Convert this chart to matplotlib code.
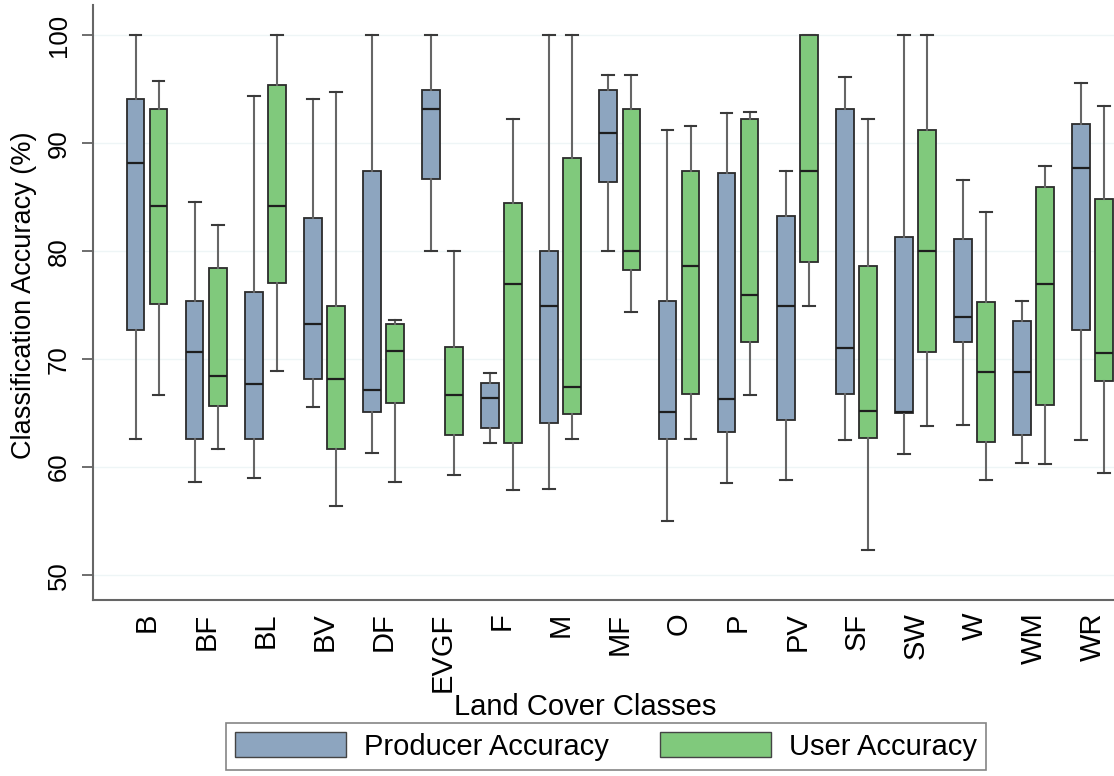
import numpy as np
import matplotlib
matplotlib.use("Agg")
import matplotlib.pyplot as plt
from matplotlib.patches import Patch

plt.rcParams['font.family'] = ['Liberation Sans', 'DejaVu Sans']

# Класи та статистики боксплотів
classes = ["B", "BF", "BL", "BV", "DF", "EVGF", "F", "M", "MF", "O", "P", "PV", "SF", "SW", "W", "WM", "WR"]

prod_lo = [62.6, 58.6, 59.0, 65.6, 61.3, 80.0, 62.2, 58.0, 80.0, 55.0, 58.5, 58.8, 62.5, 61.2, 63.9, 60.4, 62.5]
prod_q1 = [72.7, 62.6, 62.6, 68.2, 65.1, 86.7, 63.6, 64.1, 86.4, 62.6, 63.3, 64.4, 66.8, 65.0, 71.6, 63.0, 72.7]
prod_med = [88.2, 70.7, 67.7, 73.3, 67.1, 93.2, 66.4, 74.9, 90.9, 65.1, 66.3, 74.9, 71.0, 65.1, 73.9, 68.8, 87.7]
prod_q3 = [94.1, 75.4, 76.2, 83.1, 87.4, 94.9, 67.8, 80.0, 94.9, 75.4, 87.2, 83.3, 93.2, 81.3, 81.1, 73.5, 91.8]
prod_hi = [100.0, 84.6, 94.4, 94.1, 100.0, 100.0, 68.7, 100.0, 96.3, 91.2, 92.8, 87.4, 96.1, 100.0, 86.6, 75.4, 95.6]

user_lo = [66.7, 61.7, 68.9, 56.4, 58.6, 59.3, 57.9, 62.6, 74.4, 62.6, 66.7, 74.9, 52.3, 63.8, 58.8, 60.3, 59.5]
user_q1 = [75.1, 65.7, 77.1, 61.7, 65.9, 63.0, 62.2, 64.9, 78.3, 66.8, 71.6, 79.0, 62.7, 70.7, 62.3, 65.8, 68.0]
user_med = [84.2, 68.4, 84.2, 68.2, 70.8, 66.7, 77.0, 67.4, 80.0, 78.6, 75.9, 87.4, 65.2, 80.0, 68.8, 77.0, 70.6]
user_q3 = [93.2, 78.4, 95.4, 74.9, 73.3, 71.1, 84.5, 88.6, 93.2, 87.4, 92.2, 100.0, 78.6, 91.2, 75.3, 85.9, 84.8]
user_hi = [95.8, 82.4, 100.0, 94.7, 73.6, 80.0, 92.2, 100.0, 96.3, 91.6, 92.9, 100.0, 92.2, 100.0, 83.6, 87.9, 93.4]

yticks = [50, 60, 70, 80, 90, 100]

prod_color = "#8DA5BF"
user_color = "#80C97C"


def make_stats(lo, q1, med, q3, hi):
    return [dict(whislo=a, q1=b, med=c, q3=d, whishi=e, fliers=[])
            for a, b, c, d, e in zip(lo, q1, med, q3, hi)]


fig = plt.figure(figsize=(11.14, 7.76), dpi=100)
ax = fig.add_axes([0.0835, 0.2268, 0.9165, 0.7668])

x = np.arange(len(classes))
off = 0.195

for stats, pos, col in [
    (make_stats(prod_lo, prod_q1, prod_med, prod_q3, prod_hi), x - off, prod_color),
    (make_stats(user_lo, user_q1, user_med, user_q3, user_hi), x + off, user_color),
]:
    ax.bxp(stats, positions=pos, widths=0.30, capwidths=0.2, patch_artist=True,
           showfliers=False, manage_ticks=False,
           boxprops=dict(facecolor=col, edgecolor="#2b2b2b", linewidth=1.3),
           medianprops=dict(color="#1e1e1e", linewidth=1.6),
           whiskerprops=dict(color="#666666", linewidth=1.5),
           capprops=dict(color="#3a3a3a", linewidth=1.5), zorder=3)

ax.set_xlim(-0.914, 16.36)
ax.set_ylim(47.7, 102.8)

for t in yticks:
    ax.axhline(t, color="#EEF5F6", linewidth=1.0, zorder=0)

ax.set_yticks(yticks)
ax.set_yticklabels([str(t) for t in yticks], rotation=90, va="center", fontsize=18.5)
ax.tick_params(axis="y", length=8, width=1.2, color="#555555", pad=8)

ax.set_xticks(x)
ax.set_xticklabels(classes, rotation=90, fontsize=21)
ax.tick_params(axis="x", length=0, pad=9)

for s in ["top", "right"]:
    ax.spines[s].set_visible(False)
for s in ["left", "bottom"]:
    ax.spines[s].set_color("#666666")
    ax.spines[s].set_linewidth(1.5)

fig.text(24 / 1114, 1 - 295 / 776, "Classification Accuracy (%)", rotation=90,
         ha="center", va="center", fontsize=19.5)
fig.text(585 / 1114, 1 - 707 / 776, "Land Cover Classes", ha="center", va="center", fontsize=21)

handles = [Patch(facecolor=prod_color, edgecolor="#444444", label="Producer Accuracy"),
           Patch(facecolor=user_color, edgecolor="#444444", label="User Accuracy")]
leg = fig.legend(handles=handles, loc="center", bbox_to_anchor=(0.544, 0.038), ncol=2,
                 fontsize=21, handlelength=3.8, handleheight=0.95, columnspacing=1.75,
                 frameon=True, fancybox=False, borderpad=0.3, borderaxespad=0,
                 handletextpad=0.62)
leg.get_frame().set_edgecolor("#666666")
leg.get_frame().set_linewidth(1.2)

fig.savefig("out.png", dpi=100)
